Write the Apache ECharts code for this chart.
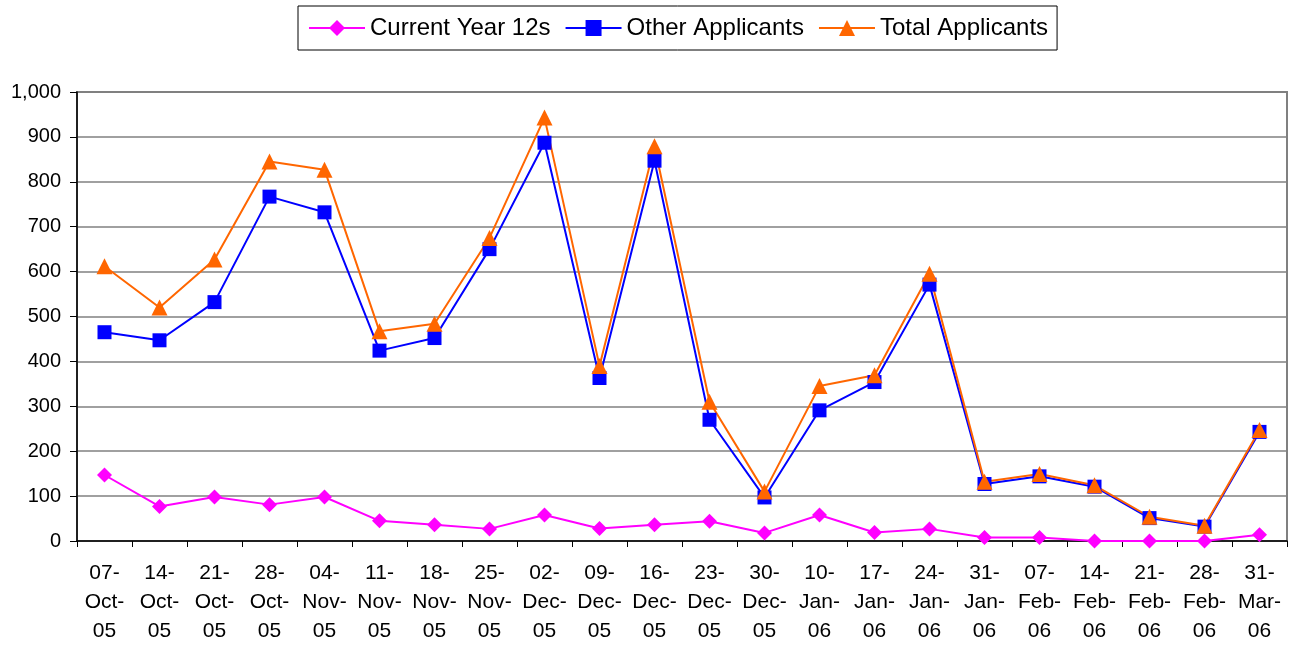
<!DOCTYPE html>
<html>
<head>
<meta charset="utf-8">
<script src="https://cdn.jsdelivr.net/npm/echarts@6/dist/echarts.min.js"></script>
<style>
html,body{margin:0;padding:0;background:#fff;}
#c{width:1297px;height:646px;}
</style>
</head>
<body>
<div id="c"></div>
<script>
const categories = ["07-Oct-05","14-Oct-05","21-Oct-05","28-Oct-05","04-Nov-05","11-Nov-05","18-Nov-05","25-Nov-05","02-Dec-05","09-Dec-05","16-Dec-05","23-Dec-05","30-Dec-05","10-Jan-06","17-Jan-06","24-Jan-06","31-Jan-06","07-Feb-06","14-Feb-06","21-Feb-06","28-Feb-06","31-Mar-06"];
const currentYear12s = [147,77,98,81,98,45,36,27,58,28,36,44,18,58,19,27,8,8,0,0,0,14];
const otherApplicants = [465,447,532,767,732,424,452,650,887,363,847,270,97,291,354,571,127,144,121,51,32,243];
const totalApplicants = [612,520,627,845,827,467,484,675,943,390,879,310,110,345,369,595,132,149,124,54,34,247];
const seriesNames = ["Current Year 12s","Other Applicants","Total Applicants"];

const FONT = "Liberation Sans, Arial, sans-serif";
const chart = echarts.init(document.getElementById('c'), null, {renderer:'canvas'});
chart.setOption({
  animation:false,
  backgroundColor:'#ffffff',
  textStyle:{fontFamily:FONT},
  legend:{
    left:298, top:6,
    padding:[10,9,10,10],
    borderColor:'#000', borderWidth:1,
    itemWidth:56, itemHeight:20, itemGap:14,
    textStyle:{fontSize:24, color:'#000', fontFamily:FONT},
    data:seriesNames
  },
  grid:{left:77, right:10, top:92, bottom:104, show:true, borderColor:'#808080', borderWidth:2},
  xAxis:{
    type:'category',
    data:categories,
    boundaryGap:true,
    axisLine:{lineStyle:{color:'#000', width:1.5}},
    axisTick:{show:true, length:6, lineStyle:{color:'#000'}},
    axisLabel:{
      color:'#000', fontSize:21, lineHeight:29, margin:18, interval:0, fontFamily:FONT,
      formatter:function(v){const p=v.split('-');return p[0]+'-\n'+p[1]+'-\n'+p[2];}
    }
  },
  yAxis:{
    type:'value', min:0, max:1000, interval:100,
    axisLine:{show:true, lineStyle:{color:'#000', width:1.5}},
    axisTick:{show:true, length:7, lineStyle:{color:'#000'}},
    axisLabel:{color:'#000', fontSize:20, margin:16, fontFamily:FONT,
      formatter:function(v){return v.toLocaleString('en-US');}},
    splitLine:{show:true, lineStyle:{color:'#808080', width:1.5}}
  },
  series:[
    {name:seriesNames[0], type:'line', data:currentYear12s, symbol:'diamond', symbolSize:15,
     lineStyle:{color:'#FF00FF', width:2}, itemStyle:{color:'#FF00FF'}},
    {name:seriesNames[1], type:'line', data:otherApplicants, symbol:'rect', symbolSize:14,
     lineStyle:{color:'#0000FF', width:2}, itemStyle:{color:'#0000FF'}},
    {name:seriesNames[2], type:'line', data:totalApplicants, symbol:'triangle', symbolSize:16,
     lineStyle:{color:'#FF6600', width:2}, itemStyle:{color:'#FF6600'}}
  ]
});
</script>
</body>
</html>
